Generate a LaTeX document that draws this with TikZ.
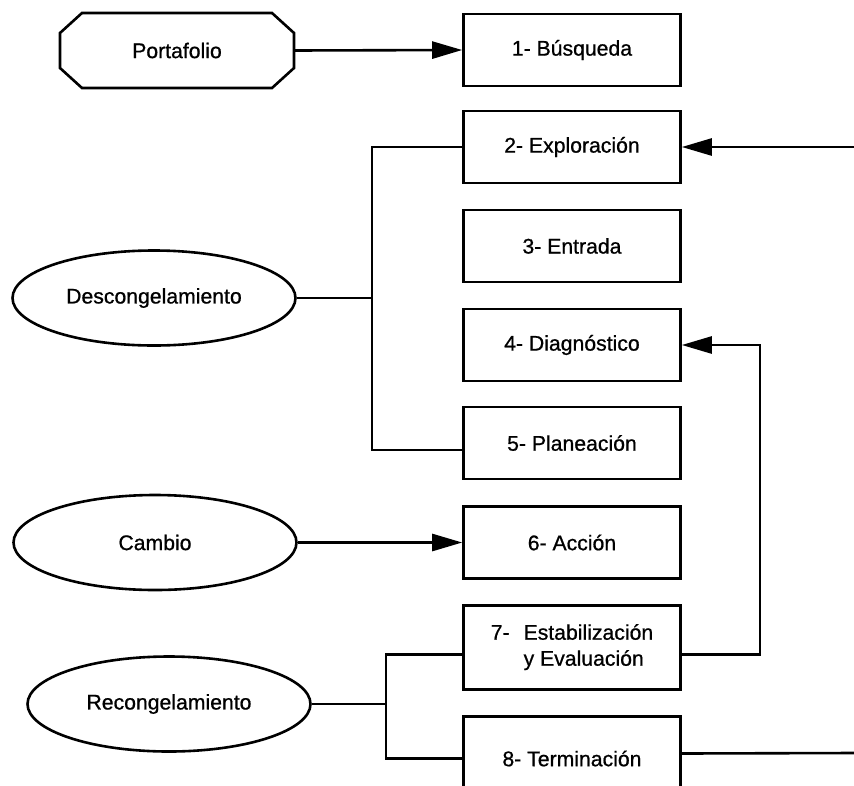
\documentclass[tikz,border=0pt]{standalone}
\usepackage{fontspec}
\setmainfont{Liberation Sans}
\newfontfamily\diagfont{Liberation Sans}[FakeBold=0.8]
\usetikzlibrary{arrows.meta,shapes.geometric}

\begin{document}
\begin{tikzpicture}[x=1pt,y=-1pt,
  lw/.style={line width=2.6pt},
  txt/.style={font=\diagfont\fontsize{21.2}{26}\selectfont},
  stage/.style={draw, lw, txt, minimum width=217pt, minimum height=72pt,
    inner sep=2pt, align=center},
  tallstage/.style={stage, minimum height=84pt},
  phase/.style={draw, lw, txt, ellipse, minimum width=283pt,
    minimum height=95pt, inner sep=0pt},
  link/.style={lw},
  feed/.style={lw, -{Triangle[length=30pt,width=17pt]}}
]
% page frame
\fill[white] (0,0) rectangle (854,785);
\useasboundingbox (0,0) rectangle (854,785);
\clip (0,0) rectangle (854,785);

% source of the first stage (octagon drawn around a plain node)
\node[txt, minimum width=234pt, minimum height=75pt, outer sep=0pt] (port) at (177,50.5) {Portafolio};
\draw[lw] ([xshift=22pt]port.north west) -- ([xshift=-22pt]port.north east)
  -- ([yshift=-20pt]port.north east) -- ([yshift=20pt]port.south east)
  -- ([xshift=-22pt]port.south east) -- ([xshift=22pt]port.south west)
  -- ([yshift=20pt]port.south west) -- ([yshift=-20pt]port.north west) -- cycle;

% phases
\node[phase] (desc)   at (154,298) {Descongelamiento};
\node[phase] (cambio) at (155,542.5) {Cambio};
\node[phase] (recon)  at (169,704) {Recongelamiento};

% stages
\node[stage] (b1) at (572,50)    {1- Búsqueda};
\node[stage] (b2) at (572,147)   {2- Exploración};
\node[stage] (b3) at (572,246)   {3- Entrada};
\node[stage] (b4) at (572,345)   {4- Diagnóstico};
\node[stage] (b5) at (572,443)   {5- Planeación};
\node[stage] (b6) at (572,542.5) {6- Acción};
\node[tallstage] (b7) at (572,647.5)
  {\begin{tabular}{@{}l@{\hspace{14pt}}l@{}}7- & Estabilización\\ & y Evaluación\end{tabular}};
\node[tallstage] (b8) at (572,758.5) {8- Terminación};

% junctions and loop points
\coordinate (j1) at (372,298);
\coordinate (j2) at (386,704);
\coordinate (r1) at (760,345);
\coordinate (inR) at (854,147);
\coordinate (outR) at (854,753);

% connectors
\draw[feed] (port.east) -- (b1.west);
\draw[link] (desc.east) -- (j1);
\draw[link] (b2.west) -| (j1) |- ([yshift=-7pt]b5.west);
\draw[feed] (cambio.east) -- (b6.west);
\draw[link] (recon.east) -- (j2);
\draw[link] ([yshift=-7pt]b7.west) -| (j2) |- (b8.west);
\draw[feed] ([yshift=-7pt]b7.east) -| (r1) -- (b4.east);
\draw[feed] (inR) -- (b2.east);
\draw[link] ([yshift=5pt]b8.east) -- (outR);
\end{tikzpicture}
\end{document}
